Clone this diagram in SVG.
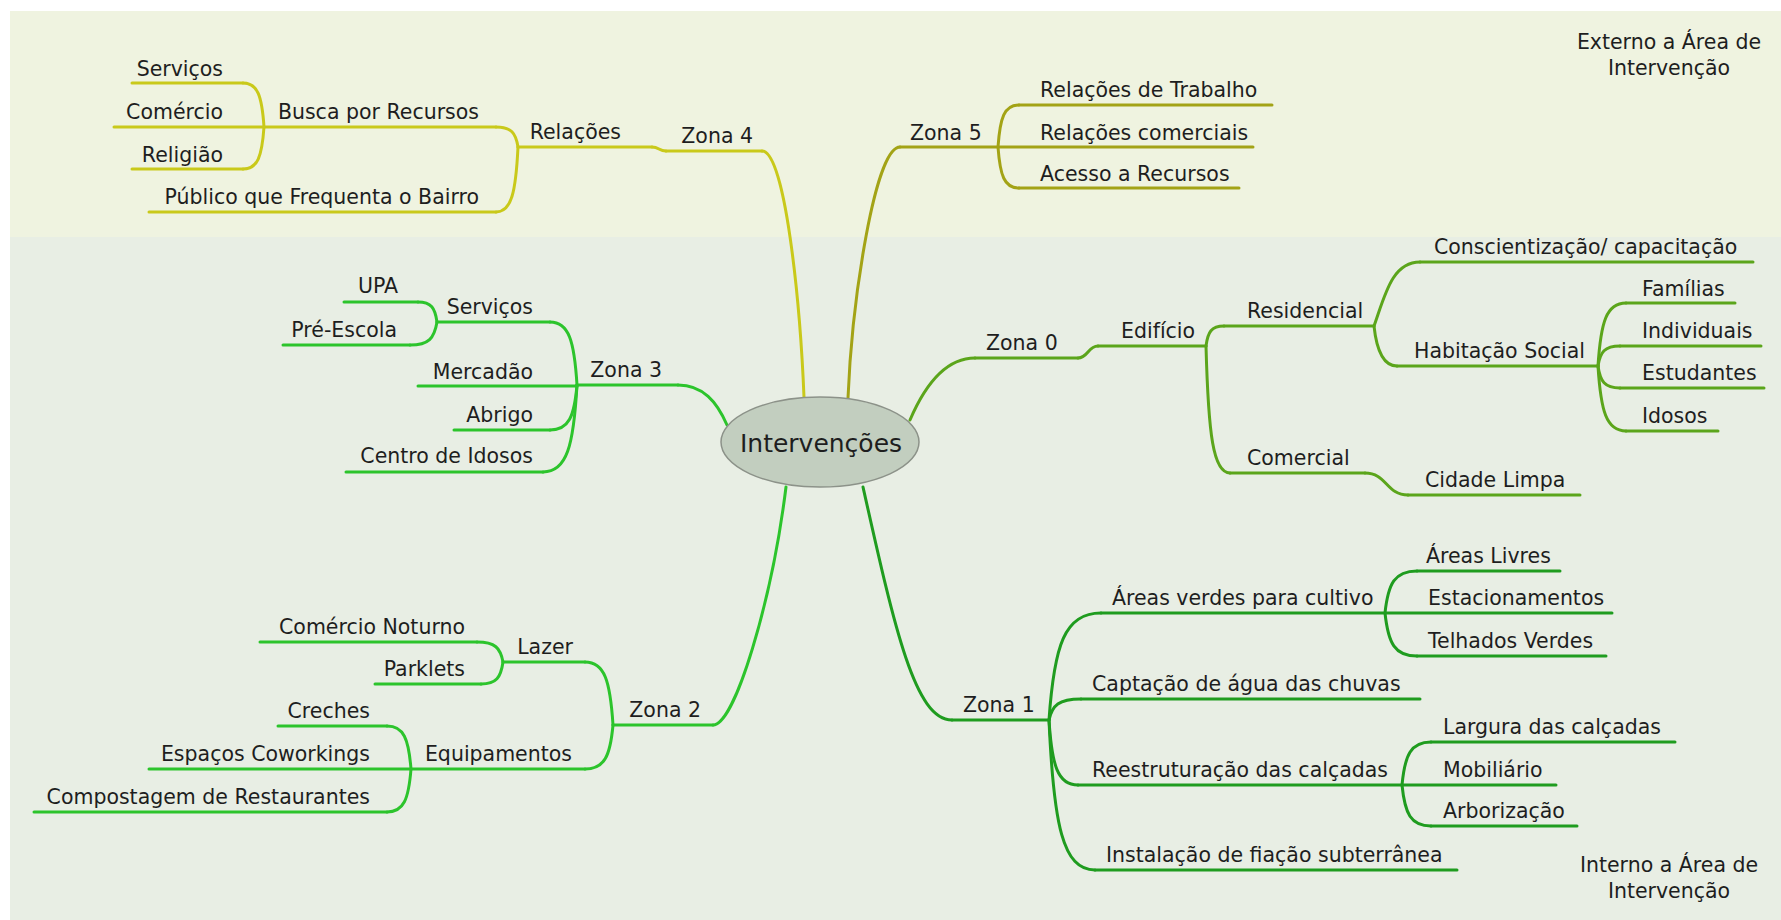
<svg xmlns="http://www.w3.org/2000/svg" width="1781" height="920" viewBox="0 0 1781 920">
  <style>
    text { font-family: "DejaVu Sans", "Liberation Sans", sans-serif; font-size: 20.5px; fill: #1e1e1e; }
    .end { text-anchor: end; }
    .mid { text-anchor: middle; }
    .ln { fill: none; stroke-width: 3; stroke-linecap: round; stroke-linejoin: round; }
    .z4 { stroke: #c9c91a; }
    .z5 { stroke: #a3a316; }
    .z3 { stroke: #2cc42c; }
    .z2 { stroke: #2cc42c; }
    .z0 { stroke: #5ba51b; }
    .z1 { stroke: #1f9c1f; }
  </style>

  <!-- background bands -->
  <rect x="0" y="0" width="1781" height="920" fill="#ffffff"/>
  <rect x="10" y="11" width="1771" height="226" fill="#eff3e0"/>
  <rect x="10" y="237" width="1771" height="683" fill="#e8eee4"/>

  <!-- curved connectors between parent junctions and child underlines -->
  <g id="connectors" class="ln">
    <!-- Zona 4 -->
    <path class="z4" d="M804 397 C800 300 785 151 762 151"/>
    <path class="z4" d="M666 151 C659 151 659 147 652 147"/>
    <path class="z4" d="M518 147 C515.8 133 511.4 127 496 127"/>
    <path class="z4" d="M518 147 C515.8 192.5 511.4 212 496 212"/>
    <path class="z4" d="M264 127 C261.9 96.2 257.7 83 243 83"/>
    <path class="z4" d="M264 127 C261.9 156.4 257.7 169 243 169"/>
    <!-- Zona 5 -->
    <path class="z5" d="M848 398 C852 300 875 147 900 147"/>
    <path class="z5" d="M998 147 C1000.1 117.6 1004.3 105 1019 105"/>
    <path class="z5" d="M998 147 C1000.1 175.7 1004.3 188 1019 188"/>
    <!-- Zona 3 -->
    <path class="z3" d="M727 425 C717 402 703 385 678 385"/>
    <path class="z3" d="M577 385 C574.3 340.9 568.9 322 550 322"/>
    <path class="z3" d="M577 385 C574.3 416.5 568.9 430 550 430"/>
    <path class="z3" d="M577 385 C573.6 445.9 566.8 472 543 472"/>
    <path class="z3" d="M437 322 C435.1 308 431.3 302 418 302"/>
    <path class="z3" d="M437 322 C434.3 338.1 428.9 345 410 345"/>
    <!-- Zona 0 -->
    <path class="z0" d="M910 420 C925 385 945 358 975 358"/>
    <path class="z0" d="M1078 358 C1088 358 1088 346 1098 346"/>
    <path class="z0" d="M1206 346 C1207.8 332 1211.4 326 1224 326"/>
    <path class="z0" d="M1206 346 C1208.4 434.9 1213.2 473 1230 473"/>
    <path class="z0" d="M1365 473 C1387 473 1386 495 1408 495"/>
    <path class="z0" d="M1374 326 C1385 295 1392 262 1420 262"/>
    <path class="z0" d="M1374 326 C1377 354 1385 366 1397 366"/>
    <path class="z0" d="M1598 366 C1600.8 321.9 1606.4 303 1626 303"/>
    <path class="z0" d="M1598 366 C1600.2 352 1604.6 346 1620 346"/>
    <path class="z0" d="M1598 366 C1600.2 381.4 1604.6 388 1620 388"/>
    <path class="z0" d="M1598 366 C1600.8 411.5 1606.4 431 1626 431"/>
    <!-- Zona 1 -->
    <path class="z1" d="M863 487 C895 630 915 720 952 720"/>
    <path class="z1" d="M1049 720 C1054.2 645.1 1064.6 613 1101 613"/>
    <path class="z1" d="M1049 720 C1052.2 705.3 1058.6 699 1081 699"/>
    <path class="z1" d="M1049 720 C1051.9 765.5 1057.7 785 1078 785"/>
    <path class="z1" d="M1049 720 C1053.6 825 1062.8 870 1095 870"/>
    <path class="z1" d="M1385 613 C1388.2 583.6 1394.6 571 1417 571"/>
    <path class="z1" d="M1385 613 C1388.2 643.1 1394.6 656 1417 656"/>
    <path class="z1" d="M1402 785 C1404.9 754.9 1410.7 742 1431 742"/>
    <path class="z1" d="M1402 785 C1404.9 813.7 1410.7 826 1431 826"/>
    <!-- Zona 2 -->
    <path class="z2" d="M786 487 C772 600 735 725 713 725"/>
    <path class="z2" d="M613 725 C610.2 680.9 604.6 662 585 662"/>
    <path class="z2" d="M613 725 C610.2 755.8 604.6 769 585 769"/>
    <path class="z2" d="M503 662 C500.4 648 495.2 642 477 642"/>
    <path class="z2" d="M503 662 C500.8 677.4 496.4 684 481 684"/>
    <path class="z2" d="M411 769 C408.6 738.9 403.8 726 387 726"/>
    <path class="z2" d="M411 769 C408.6 799.1 403.8 812 387 812"/>
  </g>

  <!-- central topic -->
  <g id="central">
    <ellipse cx="820" cy="442" rx="99" ry="45" fill="#c2cebf" stroke="#8c9289" stroke-width="1.5"/>
    <text x="821" y="452" class="mid" style="font-size:25px">Intervenções</text>
  </g>

  <!-- Zona 4 branch -->
  <g id="zona4" class="ln z4">
    <path d="M762 151 H666"/>
    <text x="753" y="143" class="end" stroke="none">Zona 4</text>
  </g>
  <g id="relacoes" class="ln z4">
    <path d="M652 147 H518"/>
    <text x="621" y="139" class="end" stroke="none">Relações</text>
  </g>
  <g id="busca-recursos" class="ln z4">
    <path d="M496 127 H264"/>
    <text x="479" y="119" class="end" stroke="none">Busca por Recursos</text>
  </g>
  <g id="publico-bairro" class="ln z4">
    <path d="M496 212 H149"/>
    <text x="479" y="204" class="end" stroke="none">Público que Frequenta o Bairro</text>
  </g>
  <g id="servicos-z4" class="ln z4">
    <path d="M243 83 H132"/>
    <text x="223" y="76" class="end" stroke="none">Serviços</text>
  </g>
  <g id="comercio-z4" class="ln z4">
    <path d="M264 127 H114"/>
    <text x="223" y="119" class="end" stroke="none">Comércio</text>
  </g>
  <g id="religiao" class="ln z4">
    <path d="M243 169 H132"/>
    <text x="223" y="162" class="end" stroke="none">Religião</text>
  </g>

  <!-- Zona 5 branch -->
  <g id="zona5" class="ln z5">
    <path d="M900 147 H998"/>
    <text x="910" y="140" stroke="none">Zona 5</text>
  </g>
  <g id="relacoes-trabalho" class="ln z5">
    <path d="M1019 105 H1272"/>
    <text x="1040" y="97" stroke="none">Relações de Trabalho</text>
  </g>
  <g id="relacoes-comerciais" class="ln z5">
    <path d="M998 147 H1253"/>
    <text x="1040" y="140" stroke="none">Relações comerciais</text>
  </g>
  <g id="acesso-recursos" class="ln z5">
    <path d="M1019 188 H1239"/>
    <text x="1040" y="181" stroke="none">Acesso a Recursos</text>
  </g>

  <!-- Zona 3 branch -->
  <g id="zona3" class="ln z3">
    <path d="M678 385 H577"/>
    <text x="662" y="377" class="end" stroke="none">Zona 3</text>
  </g>
  <g id="servicos-z3" class="ln z3">
    <path d="M550 322 H437"/>
    <text x="533" y="314" class="end" stroke="none">Serviços</text>
  </g>
  <g id="upa" class="ln z3">
    <path d="M418 302 H344"/>
    <text x="398" y="293" class="end" stroke="none">UPA</text>
  </g>
  <g id="pre-escola" class="ln z3">
    <path d="M410 345 H283"/>
    <text x="397" y="337" class="end" stroke="none">Pré-Escola</text>
  </g>
  <g id="mercadao" class="ln z3">
    <path d="M577 386 H418"/>
    <text x="533" y="379" class="end" stroke="none">Mercadão</text>
  </g>
  <g id="abrigo" class="ln z3">
    <path d="M550 430 H454"/>
    <text x="533" y="422" class="end" stroke="none">Abrigo</text>
  </g>
  <g id="centro-idosos" class="ln z3">
    <path d="M543 472 H346"/>
    <text x="533" y="463" class="end" stroke="none">Centro de Idosos</text>
  </g>

  <!-- Zona 0 branch -->
  <g id="zona0" class="ln z0">
    <path d="M975 358 H1078"/>
    <text x="986" y="350" stroke="none">Zona 0</text>
  </g>
  <g id="edificio" class="ln z0">
    <path d="M1098 346 H1206"/>
    <text x="1121" y="338" stroke="none">Edifício</text>
  </g>
  <g id="residencial" class="ln z0">
    <path d="M1224 326 H1374"/>
    <text x="1247" y="318" stroke="none">Residencial</text>
  </g>
  <g id="conscientizacao" class="ln z0">
    <path d="M1420 262 H1753"/>
    <text x="1434" y="254" stroke="none">Conscientização/ capacitação</text>
  </g>
  <g id="habitacao-social" class="ln z0">
    <path d="M1397 366 H1598"/>
    <text x="1414" y="358" stroke="none">Habitação Social</text>
  </g>
  <g id="familias" class="ln z0">
    <path d="M1626 303 H1735"/>
    <text x="1642" y="296" stroke="none">Famílias</text>
  </g>
  <g id="individuais" class="ln z0">
    <path d="M1620 346 H1761"/>
    <text x="1642" y="338" stroke="none">Individuais</text>
  </g>
  <g id="estudantes" class="ln z0">
    <path d="M1620 388 H1764"/>
    <text x="1642" y="380" stroke="none">Estudantes</text>
  </g>
  <g id="idosos" class="ln z0">
    <path d="M1626 431 H1718"/>
    <text x="1642" y="423" stroke="none">Idosos</text>
  </g>
  <g id="comercial" class="ln z0">
    <path d="M1230 473 H1365"/>
    <text x="1247" y="465" stroke="none">Comercial</text>
  </g>
  <g id="cidade-limpa" class="ln z0">
    <path d="M1408 495 H1580"/>
    <text x="1425" y="487" stroke="none">Cidade Limpa</text>
  </g>

  <!-- Zona 1 branch -->
  <g id="zona1" class="ln z1">
    <path d="M952 720 H1049"/>
    <text x="963" y="712" stroke="none">Zona 1</text>
  </g>
  <g id="areas-verdes" class="ln z1">
    <path d="M1101 613 H1385"/>
    <text x="1112" y="605" stroke="none">Áreas verdes para cultivo</text>
  </g>
  <g id="areas-livres" class="ln z1">
    <path d="M1417 571 H1560"/>
    <text x="1426" y="563" stroke="none">Áreas Livres</text>
  </g>
  <g id="estacionamentos" class="ln z1">
    <path d="M1385 613 H1612"/>
    <text x="1428" y="605" stroke="none">Estacionamentos</text>
  </g>
  <g id="telhados-verdes" class="ln z1">
    <path d="M1417 656 H1606"/>
    <text x="1428" y="648" stroke="none">Telhados Verdes</text>
  </g>
  <g id="captacao" class="ln z1">
    <path d="M1081 699 H1420"/>
    <text x="1092" y="691" stroke="none">Captação de água das chuvas</text>
  </g>
  <g id="reestruturacao" class="ln z1">
    <path d="M1078 785 H1402"/>
    <text x="1092" y="777" stroke="none">Reestruturação das calçadas</text>
  </g>
  <g id="largura" class="ln z1">
    <path d="M1431 742 H1675"/>
    <text x="1443" y="734" stroke="none">Largura das calçadas</text>
  </g>
  <g id="mobiliario" class="ln z1">
    <path d="M1402 785 H1556"/>
    <text x="1443" y="777" stroke="none">Mobiliário</text>
  </g>
  <g id="arborizacao" class="ln z1">
    <path d="M1431 826 H1577"/>
    <text x="1443" y="818" stroke="none">Arborização</text>
  </g>
  <g id="fiacao" class="ln z1">
    <path d="M1095 870 H1457"/>
    <text x="1106" y="862" stroke="none">Instalação de fiação subterrânea</text>
  </g>

  <!-- Zona 2 branch -->
  <g id="zona2" class="ln z2">
    <path d="M713 725 H613"/>
    <text x="701" y="717" class="end" stroke="none">Zona 2</text>
  </g>
  <g id="lazer" class="ln z2">
    <path d="M585 662 H503"/>
    <text x="573" y="654" class="end" stroke="none">Lazer</text>
  </g>
  <g id="comercio-noturno" class="ln z2">
    <path d="M477 642 H260"/>
    <text x="465" y="634" class="end" stroke="none">Comércio Noturno</text>
  </g>
  <g id="parklets" class="ln z2">
    <path d="M481 684 H375"/>
    <text x="465" y="676" class="end" stroke="none">Parklets</text>
  </g>
  <g id="equipamentos" class="ln z2">
    <path d="M585 769 H411"/>
    <text x="572" y="761" class="end" stroke="none">Equipamentos</text>
  </g>
  <g id="creches" class="ln z2">
    <path d="M387 726 H278"/>
    <text x="370" y="718" class="end" stroke="none">Creches</text>
  </g>
  <g id="coworkings" class="ln z2">
    <path d="M411 769 H149"/>
    <text x="370" y="761" class="end" stroke="none">Espaços Coworkings</text>
  </g>
  <g id="compostagem" class="ln z2">
    <path d="M387 812 H34"/>
    <text x="370" y="804" class="end" stroke="none">Compostagem de Restaurantes</text>
  </g>

  <!-- band captions -->
  <g id="externo">
    <text x="1669" y="49" class="mid">Externo a Área de</text>
    <text x="1669" y="75" class="mid">Intervenção</text>
  </g>
  <g id="interno">
    <text x="1669" y="872" class="mid">Interno a Área de</text>
    <text x="1669" y="898" class="mid">Intervenção</text>
  </g>
</svg>
